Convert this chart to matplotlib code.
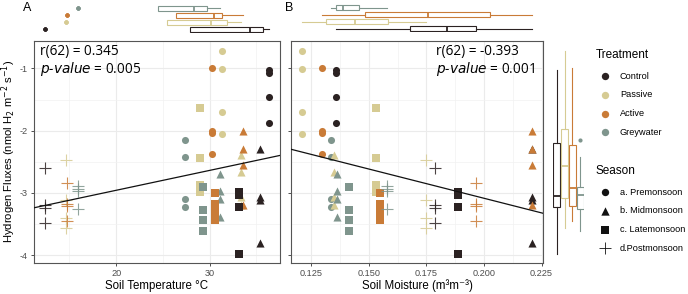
import numpy as np
import matplotlib.pyplot as plt
from matplotlib import cbook
from matplotlib.ticker import MultipleLocator

plt.rcParams['font.family'] = ['Liberation Sans', 'DejaVu Sans']

# treatments and seasons
treatments = ['Control', 'Passive', 'Active', 'Greywater']
colors = ['#2b2222', '#d6cb93', '#c97b37', '#7f958d']
seasons = ['a. Premonsoon', 'b. Midmonsoon', 'c. Latemonsoon', 'd.Postmonsoon']
markers = ['o', '^', 's', '+']
msizes = [26, 34, 26, 70]

# soil temperature (deg C) per season, order = treatments
temp_pre = [36.36, 31.36, 30.29, 27.36]
temp_mid = [35.43, 33.40, 33.60, 31.07]
temp_late = [33.10, 29.00, 30.57, 29.29]
temp_post = [12.40, 14.61, 14.71, 15.90]

# soil moisture (m3/m3) per season, order = treatments
moist_pre = [0.1357, 0.1211, 0.1298, 0.1338]
moist_mid = [0.2208, 0.1349, 0.2208, 0.1363]
moist_late = [0.1887, 0.1531, 0.1548, 0.1415]
moist_post = [0.1788, 0.1749, 0.1965, 0.1580]

# hydrogen flux, 4 replicates per treatment and season
flux_pre = [[-1.03, -1.08, -1.456, -1.87],
            [-0.722, -1.016, -1.70, -2.056],
            [-0.99, -2.00, -2.045, -2.38],
            [-2.15, -2.42, -3.09, -3.22]]
flux_mid = [[-2.30, -3.06, -3.12, -3.81],
            [-2.39, -2.66, -3.06, -3.20],
            [-2.00, -2.30, -2.55, -3.20],
            [-2.70, -2.97, -3.10, -3.39]]
flux_late = [[-2.98, -3.04, -3.23, -3.98],
             [-1.638, -2.44, -2.875, -2.98],
             [-3.00, -3.17, -3.30, -3.44],
             [-2.90, -3.28, -3.43, -3.61]]
flux_post = [[-2.60, -3.19, -3.24, -3.49],
             [-2.47, -3.12, -3.41, -3.57],
             [-2.84, -3.17, -3.21, -3.45],
             [-2.89, -2.93, -2.97, -3.25]]

temps = [temp_pre, temp_mid, temp_late, temp_post]
moists = [moist_pre, moist_mid, moist_late, moist_post]
fluxes = [flux_pre, flux_mid, flux_late, flux_post]

# flatten
T, M, F = [], [], []
by_trt_T = [[] for _ in treatments]
by_trt_M = [[] for _ in treatments]
by_trt_F = [[] for _ in treatments]
for s in range(4):
    for t in range(4):
        for v in fluxes[s][t]:
            T.append(temps[s][t]); M.append(moists[s][t]); F.append(v)
            by_trt_T[t].append(temps[s][t])
            by_trt_M[t].append(moists[s][t])
            by_trt_F[t].append(v)
T, M, F = np.array(T), np.array(M), np.array(F)

W, H = 688, 294


def rect(l, t, r, b):
    return [l / W, 1 - b / H, (r - l) / W, (b - t) / H]


fig = plt.figure(figsize=(W / 100, H / 100), dpi=100)
axA = fig.add_axes(rect(33.5, 41, 279.5, 262.7))
axB = fig.add_axes(rect(291, 41, 543, 262.7))
topA = fig.add_axes(rect(33.5, 4.8, 279.5, 32.8))
topB = fig.add_axes(rect(291, 4.0, 543, 32.2))
rightax = fig.add_axes(rect(552.75, 41, 584.25, 262.7))

ylim = (-4.12, -0.56)
xlimA = (11.16, 37.47)
xlimB = (0.1163, 0.2256)

for ax, xs, xlim in [(axA, temps, xlimA), (axB, moists, xlimB)]:
    for s in range(4):
        for t in range(4):
            xv = [xs[s][t]] * 4
            if markers[s] == '+':
                ax.scatter(xv, fluxes[s][t], marker='+', s=msizes[s], color=colors[t],
                           linewidths=0.8, alpha=0.85, zorder=3)
            else:
                ax.scatter(xv, fluxes[s][t], marker=markers[s], s=msizes[s], color=colors[t],
                           linewidths=0, zorder=3)
    ax.set_xlim(xlim)
    ax.set_ylim(ylim)
    ax.yaxis.set_major_locator(MultipleLocator(1))
    ax.yaxis.set_minor_locator(MultipleLocator(0.5))
    ax.grid(True, which='major', color='#ebebeb', lw=0.8, zorder=0)
    ax.grid(True, which='minor', color='#f2f2f2', lw=0.5, zorder=0)
    ax.set_axisbelow(True)
    for sp in ax.spines.values():
        sp.set_color('#555555')
        sp.set_linewidth(0.8)
    ax.tick_params(which='major', length=2.5, width=0.6, color='#333333',
                   labelsize=6.6, labelcolor='#4d4d4d', pad=1.8)
    ax.tick_params(which='minor', length=0)

axA.xaxis.set_major_locator(MultipleLocator(10))
axA.xaxis.set_minor_locator(MultipleLocator(5))
axB.xaxis.set_major_locator(MultipleLocator(0.025))
axB.xaxis.set_minor_locator(MultipleLocator(0.0125))
axB.set_xticks([0.125, 0.15, 0.175, 0.2, 0.225], ['0.125', '0.150', '0.175', '0.200', '0.225'])
axA.set_yticks([-1, -2, -3, -4], ['-1', '-2', '-3', '-4'])
axB.set_yticks([-1, -2, -3, -4], [])

# regression lines
for ax, x, xlim in [(axA, T, xlimA), (axB, M, xlimB)]:
    b1, b0 = np.polyfit(x, F, 1)
    xx = np.array(xlim)
    ax.plot(xx, b0 + b1 * xx, color='#111111', lw=0.9, zorder=4)

axA.set_xlabel('Soil Temperature °C', fontsize=8.3)
axB.set_xlabel('Soil Moisture (m³m⁻³)', fontsize=8.3)
for ax in (axA, axB):
    ax.xaxis.set_label_coords(0.5, -(289 - 262.7) / 221.7)
    ax.xaxis.label.set_va('baseline')
axA.set_ylabel('Hydrogen Fluxes (nmol H$_2$ m$^{-2}$ s$^{-1}$)', fontsize=8.1)
axA.yaxis.set_label_coords((18 - 33.5) / 246, 0.5)

ann = dict(fontsize=9.8, family='Open Sans', va='center', ha='left')
axA.text(0.025, 0.952, 'r(62) = 0.345', transform=axA.transAxes, **ann)
axA.text(0.025, 0.874, '$\\it{p}$-$\\it{value}$ = 0.005', transform=axA.transAxes, **ann)
axB.text(0.574, 0.952, 'r(62) = -0.393', transform=axB.transAxes, **ann)
axB.text(0.574, 0.874, '$\\it{p}$-$\\it{value}$ = 0.001', transform=axB.transAxes, **ann)

fig.text(27 / W, 1 - 8 / H, 'A', fontsize=9, va='center', ha='center')
fig.text(289.5 / W, 1 - 8 / H, 'B', fontsize=9, va='center', ha='center')


def draw_box(ax, groups, vert, width, lim):
    for i, vals in enumerate(groups):
        st = cbook.boxplot_stats(np.array(vals), whis=1.5)[0]
        st['whislo'] = min(st['whislo'], st['q1'])
        st['whishi'] = max(st['whishi'], st['q3'])
        c = colors[i]
        ax.bxp([st], positions=[i + 1], widths=width, vert=vert, patch_artist=True,
               boxprops=dict(facecolor='white', edgecolor=c, lw=0.8),
               medianprops=dict(color=c, lw=1.3),
               whiskerprops=dict(color=c, lw=0.8),
               capprops=dict(lw=0), showcaps=False,
               flierprops=dict(marker='o', markersize=3, markerfacecolor=c,
                               markeredgecolor='none'))
    if vert:
        ax.set_ylim(lim)
        ax.set_xlim(0.5, 4.5)
    else:
        ax.set_xlim(lim)
        ax.set_ylim(0.5, 4.5)
    ax.axis('off')


draw_box(topA, by_trt_T, False, 0.75, xlimA)
draw_box(topB, by_trt_M, False, 0.75, xlimB)
draw_box(rightax, by_trt_F, True, 0.88, ylim)

# legends
leg = fig.add_axes([0, 0, 1, 1])
leg.set_xlim(0, W)
leg.set_ylim(H, 0)
leg.axis('off')
leg.text(596, 55, 'Treatment', fontsize=8.5, va='center')
for i, (t, c) in enumerate(zip(treatments, colors)):
    y = 76.3 + i * 18.6
    leg.scatter([605.3], [y], s=28, color=c, linewidths=0)
    leg.text(620, y, t, fontsize=6.6, va='center')
leg.text(596, 171, 'Season', fontsize=8.5, va='center')
for i, (sname, mk) in enumerate(zip(seasons, markers)):
    y = 192.3 + i * 18.6
    if mk == '+':
        leg.scatter([605.3], [y], s=70, marker=mk, color='#111111', linewidths=0.6)
    else:
        leg.scatter([605.3], [y], s=28 if mk != '^' else 36, marker=mk, color='#111111', linewidths=0)
    leg.text(620, y, sname, fontsize=6.6, va='center')

fig.savefig('out.png', dpi=100)
